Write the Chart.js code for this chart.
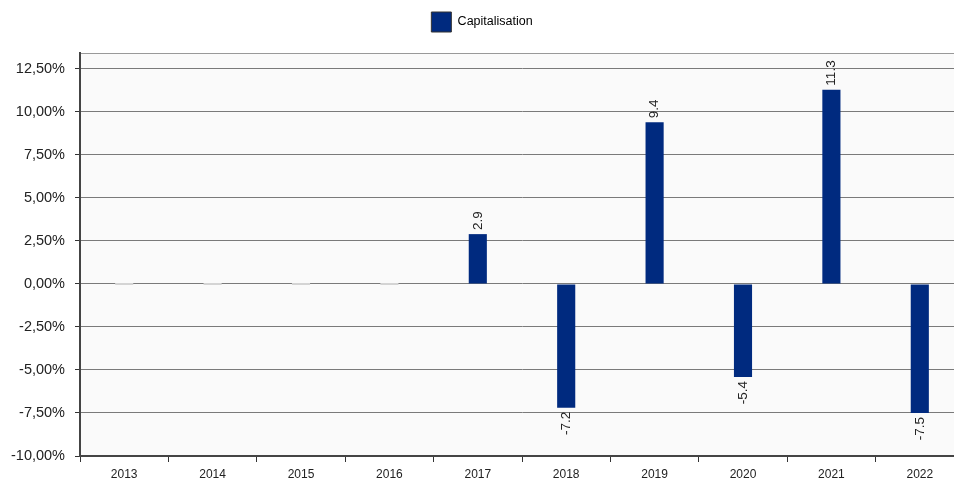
<!DOCTYPE html>
<html>
<head>
<meta charset="utf-8">
<script src="https://cdn.jsdelivr.net/npm/chart.js@4"></script>
<style>
  html, body { margin: 0; padding: 0; background: #fff; overflow: hidden; }
  #wrap { width: 964px; height: 488px; }
</style>
</head>
<body>
<div id="wrap"><canvas id="capChart"></canvas></div>
<script>
const years = ['2013', '2014', '2015', '2016', '2017', '2018', '2019', '2020', '2021', '2022'];
const capValues = [0, 0, 0, 0, 2.9, -7.2, 9.4, -5.4, 11.3, -7.5];
const yTicks = [-10, -7.5, -5, -2.5, 0, 2.5, 5, 7.5, 10, 12.5];

Chart.defaults.font.family = '"Liberation Sans", Arial, sans-serif';
Chart.defaults.font.size = 12;
Chart.defaults.color = '#222';

// plot background + frame
const plotFrame = {
    id: 'plotFrame',
    beforeDraw(chart) {
        const a = chart.chartArea, ctx = chart.ctx;
        ctx.save();
        ctx.fillStyle = '#fafafa';
        ctx.fillRect(a.left, a.top, a.right - a.left, a.bottom - a.top);
        ctx.strokeStyle = '#999';
        ctx.lineWidth = 1;
        ctx.strokeRect(a.left + 0.5, a.top + 0.5, a.right - a.left - 1, a.bottom - a.top - 1);
        ctx.restore();
    }
};

// extra room under the legend
const legendSpace = {
    id: 'legendSpace',
    afterInit(chart) {
        const lg = chart.legend;
        if (!lg || lg._patched) return;
        const fit = lg.fit;
        lg.fit = function() {
            fit.call(this);
            this.height = 53;
        };
        lg._patched = true;
    }
};

// rotated value labels
const valueLabels = {
    id: 'valueLabels',
    afterDatasetsDraw(chart) {
        const ctx = chart.ctx;
        const meta = chart.getDatasetMeta(0);
        ctx.save();
        ctx.font = '13.5px "Liberation Sans", Arial, sans-serif';
        ctx.fillStyle = '#222';
        ctx.textBaseline = 'middle';
        meta.data.forEach(function(bar, i) {
            const v = capValues[i];
            if (v === 0) return;
            ctx.save();
            ctx.translate(bar.x, bar.y);
            ctx.rotate(-Math.PI / 2);
            if (v > 0) {
                ctx.textAlign = 'left';
                ctx.fillText(v.toFixed(1), 4, 0);
            } else {
                ctx.textAlign = 'right';
                ctx.fillText(v.toFixed(1), -4, 0);
            }
            ctx.restore();
        });
        ctx.restore();
    }
};

new Chart(document.getElementById('capChart'), {
    type: 'bar',
    data: {
        labels: years,
        datasets: [{
            label: 'Capitalisation',
            data: capValues,
            backgroundColor: function(c) {
                return capValues[c.dataIndex] === 0 ? '#d4d4d4' : '#002a7f';
            },
            borderWidth: 0,
            minBarLength: 2,
            categoryPercentage: 1,
            barPercentage: 0.205
        }]
    },
    options: {
        responsive: true,
        maintainAspectRatio: false,
        animation: false,
        layout: { padding: { left: 0, right: 0, top: 0, bottom: 0 } },
        plugins: {
            legend: {
                position: 'top',
                labels: {
                    boxWidth: 20,
                    boxHeight: 20,
                    padding: 12,
                    color: '#222',
                    font: { size: 12.5 },
                    generateLabels: function(chart) {
                        return [{
                            text: 'Capitalisation',
                            fillStyle: '#002a7f',
                            strokeStyle: '#333',
                            lineWidth: 1,
                            datasetIndex: 0
                        }];
                    }
                }
            },
            tooltip: { enabled: false }
        },
        scales: {
            x: {
                grid: {
                    display: true,
                    drawOnChartArea: false,
                    drawTicks: true,
                    tickLength: 6,
                    color: '#333'
                },
                border: { color: '#444', width: 2 },
                ticks: { padding: 5, color: '#222', font: { size: 12 } },
                afterFit(scale) { scale.height = 32; }
            },
            y: {
                min: -10,
                max: 13.43,
                afterBuildTicks(scale) {
                    scale.ticks = yTicks.map(function(v) { return { value: v }; });
                },
                grid: {
                    color: '#7a7a7a',
                    tickLength: 5,
                    tickColor: '#333'
                },
                border: { color: '#444', width: 2 },
                ticks: {
                    padding: 10,
                    color: '#222',
                    font: { size: 14.5 },
                    callback: function(value) {
                        return value.toFixed(2).replace('.', ',') + '%';
                    }
                },
                afterFit(scale) { scale.width = 80; }
            }
        }
    },
    plugins: [plotFrame, legendSpace, valueLabels]
});
</script>
</body>
</html>
